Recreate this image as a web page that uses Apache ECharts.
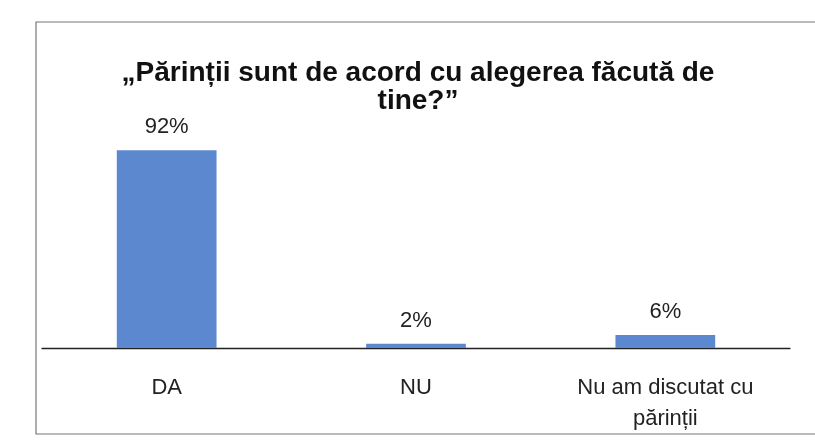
<!DOCTYPE html>
<html><head><meta charset="utf-8">
<script src="https://cdn.jsdelivr.net/npm/echarts@6/dist/echarts.min.js"></script>
<style>html,body{margin:0;padding:0;background:#fff}#c{width:815px;height:447px}</style>
</head><body><div id="c"></div>
<script>
const categories = ['DA', 'NU', 'Nu am discutat cu\npărinții'];
const values = [92, 2, 6];
const titleText = '„Părinții sunt de acord cu alegerea făcută de\ntine?”';

const chart = echarts.init(document.getElementById('c'));
chart.setOption({
  backgroundColor: '#fff',
  animation: false,
  graphic: [{
    type: 'rect', shape: { x: 36, y: 22, width: 800, height: 412 },
    style: { fill: 'none', stroke: '#777', lineWidth: 1.2 }
  }, {
    type: 'text', x: 418, y: 59,
    style: { text: titleText, align: 'center', verticalAlign: 'top',
      font: 'bold 28px "Liberation Sans"', lineHeight: 28, fill: '#111' }
  }],
  grid: { left: 42, right: 25, top: 133, bottom: 99 },
  xAxis: {
    type: 'category', data: categories,
    axisLine: { lineStyle: { color: '#222', width: 1.3 } },
    axisTick: { show: false },
    axisLabel: { fontFamily: 'Liberation Sans', fontSize: 22, color: '#222', margin: 24, lineHeight: 31 }
  },
  yAxis: { type: 'value', min: 0, max: 100, show: false, splitLine: { show: false } },
  series: [{
    type: 'bar', data: values, barWidth: '40%',
    itemStyle: { color: '#5b88cf' },
    label: { show: true, position: 'top', distance: 12, formatter: '{c}%',
      fontFamily: 'Liberation Sans', fontSize: 22, color: '#222' }
  }]
});
</script></body></html>
